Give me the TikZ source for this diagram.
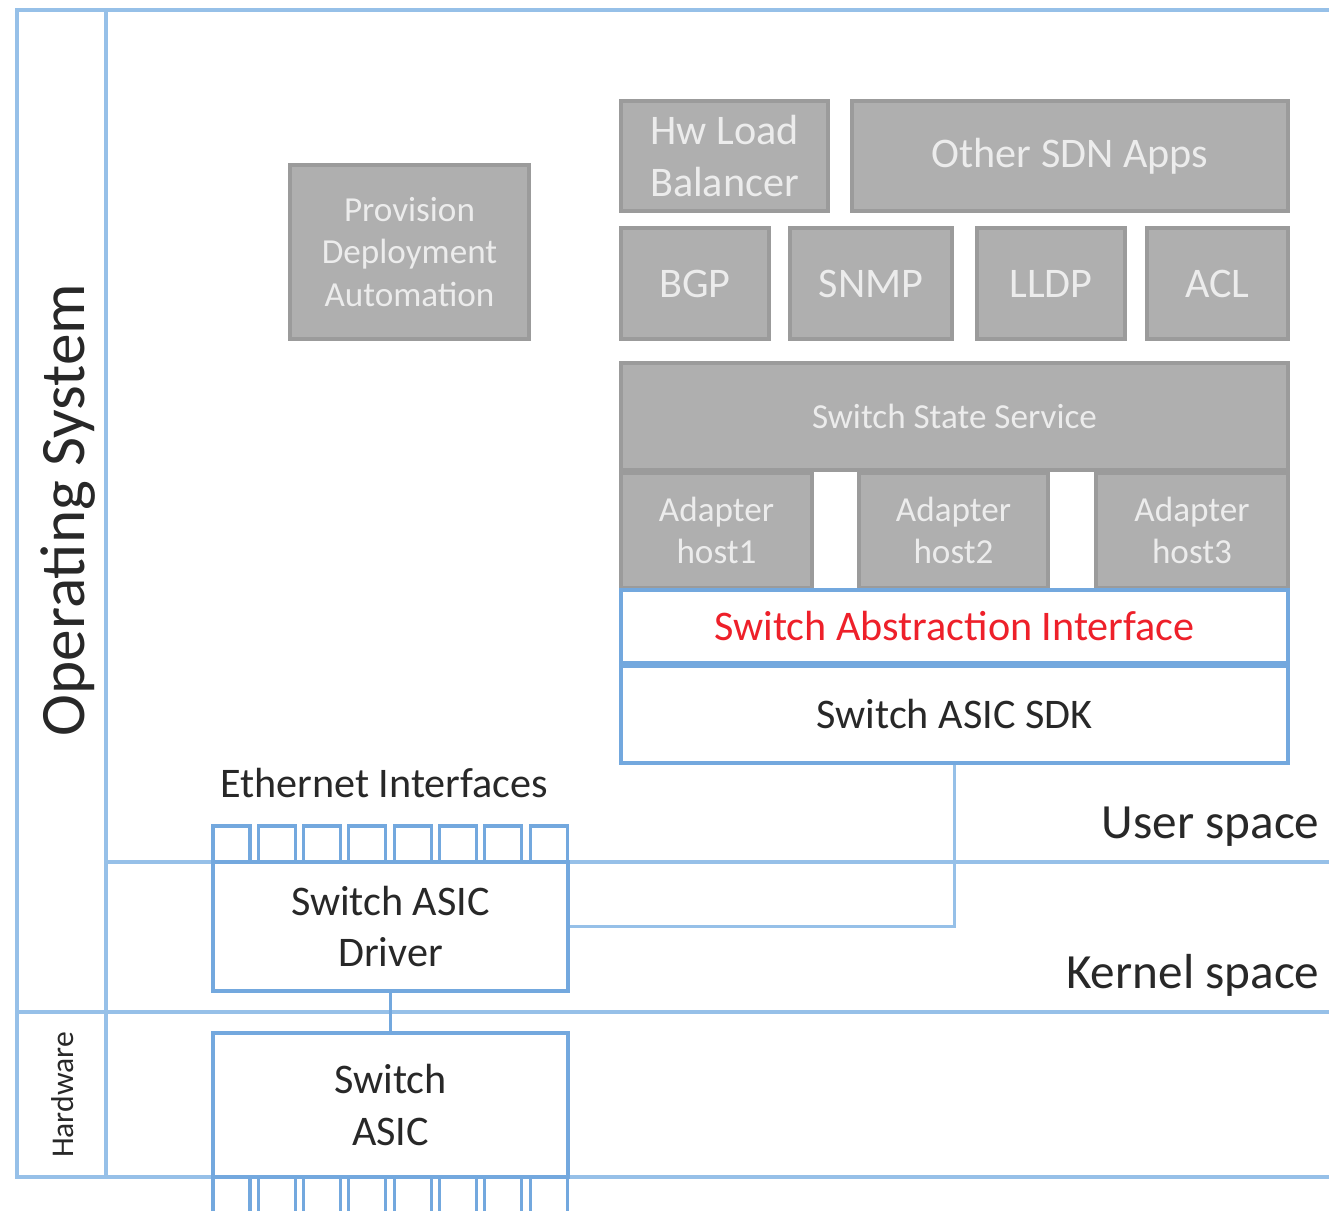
\documentclass[tikz,border=0pt]{standalone}
\usepackage{fontspec}
\setmainfont{Carlito}
\usepackage{xcolor}
\usepackage{tikz}

\definecolor{osblue}{RGB}{115,168,222}
\definecolor{layerblue}{RGB}{150,192,232}
\definecolor{boxgray}{RGB}{175,175,175}
\definecolor{boxedge}{RGB}{155,155,155}
\definecolor{graytext}{RGB}{236,236,236}
\definecolor{saired}{RGB}{238,32,42}
\definecolor{darktext}{RGB}{40,40,40}

\begin{document}
\begin{tikzpicture}
[
x=0.1mm, y=-0.1mm,
graybox/.style={rectangle, draw=boxedge, fill=boxgray, line width=1pt, inner sep=0pt, align=center, text=graytext, font=\fontsize{12}{14.7}\selectfont},
smallgray/.style={graybox, font=\fontsize{10}{12}\selectfont},
bluebox/.style={rectangle, draw=osblue, fill=white, line width=0.9pt, inner sep=0pt, align=center, text=darktext, font=\fontsize{12}{14.7}\selectfont},
port/.style={rectangle, draw=osblue, fill=white, line width=0.9pt, inner sep=0pt, minimum width=3.7mm},
label/.style={rectangle, inner sep=0pt, text=darktext},
layer/.style={draw=layerblue, line width=1.2pt},
link/.style={draw=layerblue, line width=0.7pt}
]
\useasboundingbox (0,0) rectangle (1329,1211);

%frame and layers
\draw[layer] (1329,10) -- (17,10) -- (17,1177) -- (1329,1177);
\draw[layer] (106,10) -- (106,1177);
\draw[layer] (17,1012) -- (1329,1012);
\draw[layer] (106,862) -- (1329,862);

\node at (68,510) [label, rotate=90, font=\fontsize{18}{20}\selectfont] (os) {Operating System};
\node at (63,1095) [label, rotate=90, font=\fontsize{9}{10}\selectfont] (hw) {Hardware};
\node at (1320,827) [label, anchor=east, font=\fontsize{14}{16}\selectfont] (user) {User space};
\node at (1320,975) [label, anchor=east, font=\fontsize{14}{16}\selectfont] (kernel) {Kernel space};

%apps
\node at (409.5,252) [smallgray, minimum width=23.9mm, minimum height=17.4mm] (prov) {Provision\\Deployment\\Automation};
\node at (724.5,156) [graybox, minimum width=20.7mm, minimum height=11mm] (hwlb) {Hw Load\\Balancer};
\node at (1070,156) [graybox, minimum width=43.6mm, minimum height=11mm] (sdn) {Other SDN Apps};
\node at (695,283.5) [graybox, minimum width=14.8mm, minimum height=11.1mm] (bgp) {BGP};
\node at (871,283.5) [graybox, minimum width=16.2mm, minimum height=11.1mm] (snmp) {SNMP};
\node at (1051,283.5) [graybox, minimum width=14.8mm, minimum height=11.1mm] (lldp) {LLDP};
\node at (1217.5,283.5) [graybox, minimum width=14.1mm, minimum height=11.1mm] (acl) {ACL};

%switch state service
\node at (954.5,416.5) [smallgray, minimum width=66.7mm, minimum height=10.7mm] (sss) {Switch State Service};
\node at (716.5,530.5) [smallgray, minimum width=19.1mm, minimum height=11.5mm] (host1) {Adapter\\host1};
\node at (953.5,530.5) [smallgray, minimum width=18.9mm, minimum height=11.5mm] (host2) {Adapter\\host2};
\node at (1192,530.5) [smallgray, minimum width=19.2mm, minimum height=11.5mm] (host3) {Adapter\\host3};

%sai and sdk
\node at (954.5,626.5) [bluebox, text=saired, minimum width=66.7mm, minimum height=7.3mm] (sai) {Switch Abstraction Interface};
\node at (954.5,714.5) [bluebox, minimum width=66.7mm, minimum height=9.7mm] (sdk) {Switch ASIC SDK};

%kernel side
\node at (384,783) [label, font=\fontsize{12}{14}\selectfont] (eth) {Ethernet Interfaces};
\node at (390.5,926.5) [bluebox, minimum width=35.5mm, minimum height=12.9mm] (driver) {Switch ASIC\\Driver};
\node at (390.5,1105) [bluebox, minimum width=35.5mm, minimum height=14.4mm] (asic) {Switch\\ASIC};

%ports above the driver
\node at (231.5,844) [port, minimum height=3.6mm] (p1) {};
\node at (276.8,844) [port, minimum height=3.6mm] (p2) {};
\node at (322.1,844) [port, minimum height=3.6mm] (p3) {};
\node at (367.4,844) [port, minimum height=3.6mm] (p4) {};
\node at (412.7,844) [port, minimum height=3.6mm] (p5) {};
\node at (458.0,844) [port, minimum height=3.6mm] (p6) {};
\node at (503.3,844) [port, minimum height=3.6mm] (p7) {};
\node at (548.6,844) [port, minimum height=3.6mm] (p8) {};

%ports below the asic
\node at (231.5,1197) [port, minimum height=4mm] (q1) {};
\node at (276.8,1197) [port, minimum height=4mm] (q2) {};
\node at (322.1,1197) [port, minimum height=4mm] (q3) {};
\node at (367.4,1197) [port, minimum height=4mm] (q4) {};
\node at (412.7,1197) [port, minimum height=4mm] (q5) {};
\node at (458.0,1197) [port, minimum height=4mm] (q6) {};
\node at (503.3,1197) [port, minimum height=4mm] (q7) {};
\node at (548.6,1197) [port, minimum height=4mm] (q8) {};

%connections
\draw[link] (sdk.south) |- (driver.east);
\draw[osblue, line width=0.9pt] (driver.south) -- (asic.north);

\end{tikzpicture}
\end{document}
